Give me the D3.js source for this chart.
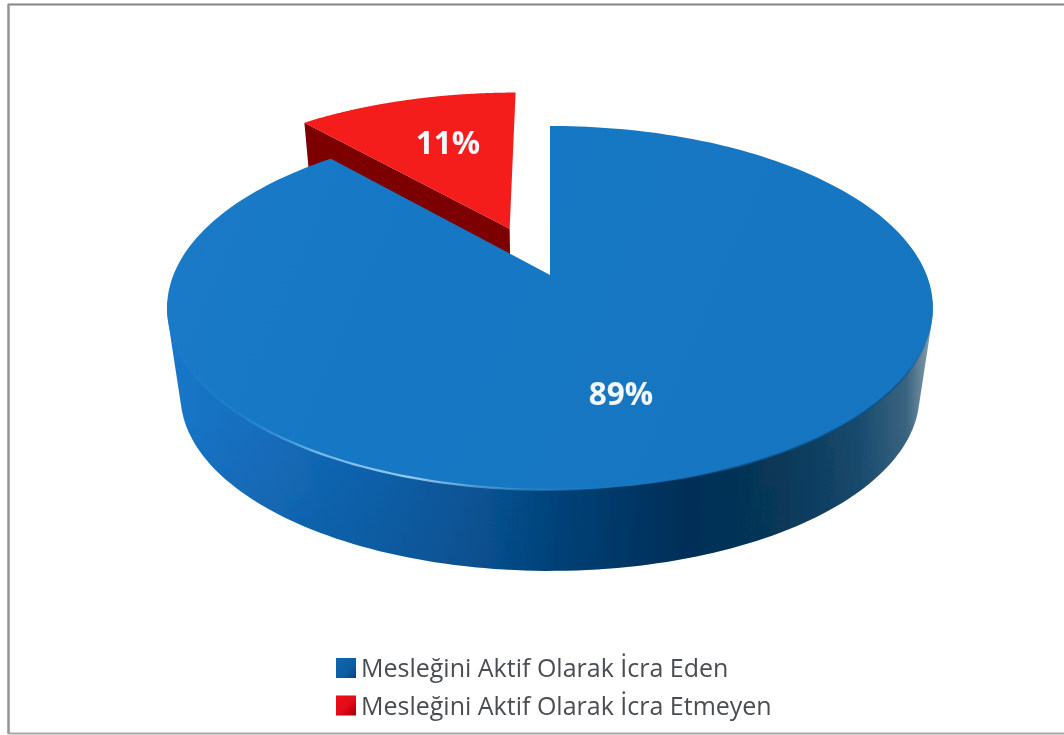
<!DOCTYPE html>
<html><head><meta charset="utf-8">
<script src="https://cdn.jsdelivr.net/npm/d3@7"></script>
<style>html,body{margin:0;padding:0;background:#fff}svg{display:block}</style>
</head><body><svg id="c" width="1064" height="735"></svg>
<script>
const categories = ["Mesleğini Aktif Olarak İcra Eden", "Mesleğini Aktif Olarak İcra Etmeyen"];
const values = [88.51, 11.49];
const labels = ["89%", "11%"];
const explode = [0, 0.298];

const W = 1064, H = 735;
const svg = d3.select("#c");
const defs = svg.append("defs");

// perspective projection of the unit disc
const cx = 550, cy = 275, kP = 0.181, aP = 176, bP = 376.6;
const vpY = 2804, sV = 0.965;
const explodeSkew = -1.5 * Math.PI / 180;
const project = (X, Y) => [cx + bP * X / (1 + kP * Y), cy - aP * Y / (1 + kP * Y)];
const drop = ([x, y]) => [cx + sV * (x - cx), vpY + sV * (y - vpY)];
const line = d3.line();

const arcs = d3.pie().sort(null).value(d => d)(values);
const rimAngle = d3.scaleLinear().domain([0, 1]);

function slicePts(arc, i) {
  const mid = (arc.startAngle + arc.endAngle) / 2 + explodeSkew;
  const ox = Math.sin(mid) * explode[i], oy = Math.cos(mid) * explode[i];
  rimAngle.range([arc.startAngle, arc.endAngle]);
  const rim = d3.range(0, 1.0001, 1 / 240).map(t => {
    const a = rimAngle(t);
    return project(Math.sin(a) + ox, Math.cos(a) + oy);
  });
  return { rim, apex: project(ox, oy) };
}

function grad(id, stops, x1, y1, x2, y2) {
  const g = defs.append("linearGradient").attr("id", id).attr("gradientUnits", "userSpaceOnUse")
    .attr("x1", x1).attr("y1", y1).attr("x2", x2).attr("y2", y2);
  stops.forEach(s => g.append("stop").attr("offset", s[0]).attr("stop-color", s[1]).attr("stop-opacity", s[2] === undefined ? 1 : s[2]));
}
grad("wallBlue", [[0, "#1a76c8"], [0.12, "#156ebd"], [0.28, "#0f62ac"], [0.42, "#085495"], [0.52, "#044279"], [0.68, "#022e56"], [0.8, "#083858"], [0.9, "#174a6c"], [0.965, "#3a6480"], [1, "#8aa2b0"]], 167, 0, 933, 0);
grad("wallShade", [[0, "#00305a", 0], [1, "#00305a", 0.16]], 0, 420, 0, 571);
grad("topBlue", [[0, "#1a7ac8"], [0.5, "#1877c3"], [1, "#1675bf"]], 167, 126, 933, 450);
grad("rimLight", [[0, "#3fa0e8", 0], [0.1, "#3aa0ea", 0.25], [0.2, "#7fc0ee", 0.9], [0.32, "#a6d4f3", 0.9], [0.46, "#5aa8dc", 0.45], [0.6, "#2c7fb8", 0], [1, "#2c7fb8", 0]], 167, 0, 933, 0);
grad("rimDark", [[0, "#0a4f86", 0], [0.6, "#0a4f86", 0], [0.75, "#0a4f86", 0.6], [0.95, "#0a4f86", 0.7], [1, "#0a4f86", 0]], 167, 0, 933, 0);
grad("legBlue", [[0, "#0f68b2"], [0.65, "#0b5c9f"], [1, "#083f78"]], 336, 658, 356, 678);
grad("legRed", [[0, "#f00c16"], [0.65, "#dc0612"], [1, "#96040c"]], 336, 696, 356, 716);

const soft = defs.append("filter").attr("id", "soft").attr("x", "-5%").attr("y", "-5%").attr("width", "110%").attr("height", "110%");
soft.append("feGaussianBlur").attr("stdDeviation", 0.7);
const softT = defs.append("filter").attr("id", "softT").attr("x", "-5%").attr("y", "-20%").attr("width", "110%").attr("height", "140%");
softT.append("feGaussianBlur").attr("stdDeviation", 0.5);

const g = svg.append("g").attr("filter", "url(#soft)");
g.append("rect").attr("x", 0).attr("y", 0).attr("width", W).attr("height", H).attr("fill", "#fff");

// red slice (behind)
const red = slicePts(arcs[1], 1);
const redLeft = red.rim[0];
g.append("path").attr("fill", "#7b0204")
  .attr("d", line([redLeft, red.apex, drop(red.apex), drop(redLeft)]) + "Z");
g.append("path").attr("fill", "#f51a1c")
  .attr("d", line([red.apex, ...red.rim]) + "Z");

// blue slice wall: silhouette of the front rim and its lower copy
const blue = slicePts(arcs[0], 0);
const front = blue.rim.filter(p => p[1] > 300);
const bandD = line(d3.polygonHull([...front, ...front.map(drop)])) + "Z";
g.append("path").attr("d", bandD).attr("fill", "url(#wallBlue)");
g.append("path").attr("d", bandD).attr("fill", "url(#wallShade)");

// blue top
g.append("path").attr("d", line([blue.apex, ...blue.rim]) + "Z").attr("fill", "url(#topBlue)");
// front-rim highlight and shade
const rimFront = front.filter(p => p[1] > 340);
g.append("path").attr("d", line(rimFront)).attr("fill", "none").attr("stroke", "url(#rimLight)").attr("stroke-width", 2.2);
g.append("path").attr("d", line(rimFront)).attr("fill", "none").attr("stroke", "url(#rimDark)").attr("stroke-width", 2);

// frame
g.append("line").attr("x1", 8).attr("x2", W).attr("y1", 4.5).attr("y2", 4.5).attr("stroke", "#858585").attr("stroke-width", 2);
g.append("line").attr("x1", 8.5).attr("x2", 8.5).attr("y1", 4).attr("y2", 734).attr("stroke", "#939393").attr("stroke-width", 2.5);
g.append("line").attr("x1", 8).attr("x2", W).attr("y1", 733.5).attr("y2", 733.5).attr("stroke", "#a8a8a8").attr("stroke-width", 2);

// data labels
const labelX = [621, 448], labelY = [394, 143];
svg.selectAll("text.lab").data(labels).join("text").attr("class", "lab")
  .attr("x", (d, i) => labelX[i]).attr("y", (d, i) => labelY[i]).attr("dy", "0.36em")
  .attr("text-anchor", "middle").attr("fill", "#f4f7fa").attr("filter", "url(#softT)")
  .attr("font-family", "'Open Sans', sans-serif").attr("font-weight", 700).attr("font-size", 31.5)
  .text(d => d);

// legend
const legY = d3.scalePoint().domain(categories).range([668, 705.5]);
const legend = svg.selectAll("g.leg").data(categories).join("g").attr("class", "leg")
  .attr("transform", d => `translate(0,${legY(d)})`);
defs.selectAll("linearGradient").filter(function () { return this.id.startsWith("leg"); })
  .attr("gradientUnits", "objectBoundingBox").attr("x1", 0).attr("y1", 0).attr("x2", 1).attr("y2", 1);
legend.append("rect").attr("x", 336).attr("y", -10).attr("width", 20).attr("height", 20)
  .attr("filter", "url(#softT)")
  .attr("fill", (d, i) => i ? "url(#legRed)" : "url(#legBlue)");
legend.append("text").attr("x", 361).attr("y", 0).attr("dy", "0.36em").attr("filter", "url(#softT)")
  .attr("fill", "#4a4e52").attr("font-family", "'Open Sans', sans-serif").attr("font-size", 25)
  .text(d => d);
</script></body></html>
